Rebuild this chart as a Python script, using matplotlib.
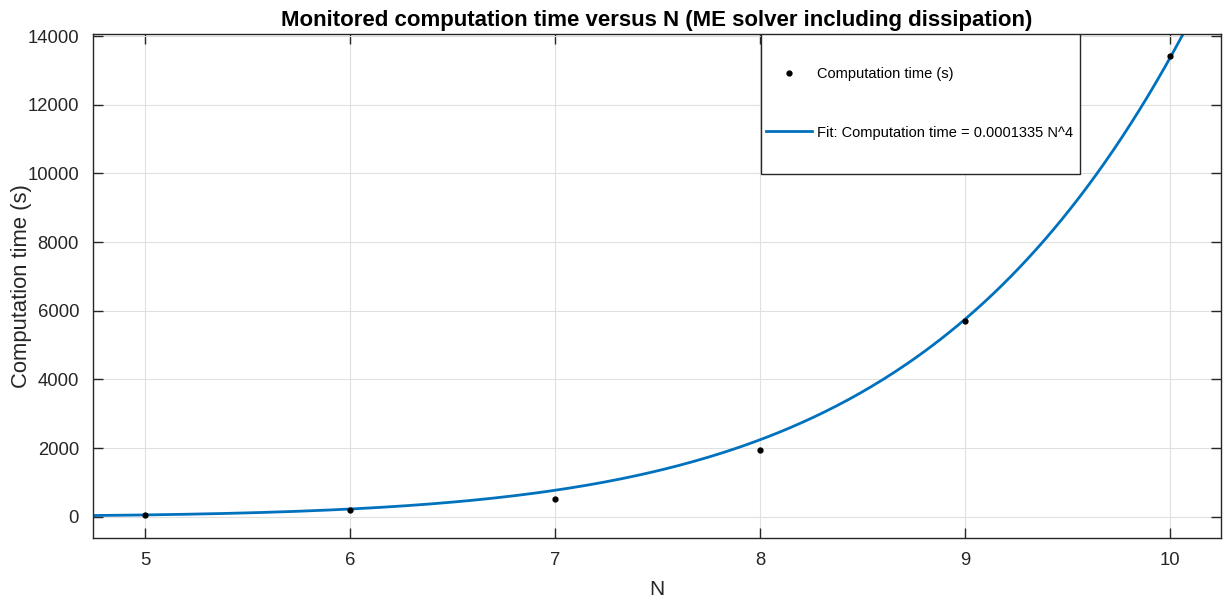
import numpy as np
import matplotlib.pyplot as plt
from matplotlib.patches import Rectangle

plt.rcParams['font.family'] = ['Liberation Sans', 'DejaVu Sans']

# measured runs
N_VALUES = [5, 6, 7, 8, 9, 10]
TIMES_S = [45, 185, 515, 1930, 5715, 13420]

# power-law fit
FIT_COEF = 0.0001335
FIT_EXP = 8
FIT_LABEL = "Fit: Computation time = 0.0001335 N^4"

X_TICKS = [5, 6, 7, 8, 9, 10]
Y_TICKS = [0, 2000, 4000, 6000, 8000, 10000, 12000, 14000]

TXT = "#262626"
BLUE = "#0072BD"

fig = plt.figure(figsize=(12.23, 6.04), dpi=100)
ax = fig.add_axes([93/1223, 1 - 538/604, (1221 - 93)/1223, (538 - 34)/604])

xf = np.linspace(4.7, 10.3, 400)
ax.plot(N_VALUES, TIMES_S, ".", color="black", markersize=7,
        label="Computation time (s)", zorder=3)
ax.plot(xf, FIT_COEF * xf**FIT_EXP, color=BLUE, lw=2, label=FIT_LABEL, zorder=2)

ax.set_xlim(4.746, 10.25)
ax.set_ylim(-620, 14060)
ax.set_xticks(X_TICKS)
ax.set_yticks(Y_TICKS)
ax.grid(True, color="#e0e0e0", lw=0.8)
ax.set_axisbelow(True)
ax.tick_params(direction="in", length=7, width=1, colors=TXT, labelsize=13.3,
               top=True, right=True, pad=10)
for s in ax.spines.values():
    s.set_color(TXT)
    s.set_linewidth(1)

ax.set_xlabel("N", fontsize=15, color=TXT, labelpad=8)
ax.set_ylabel("Computation time (s)", fontsize=15.8, color=TXT)
ax.yaxis.set_label_coords(-0.054, 0.5)
ax.set_title("Monitored computation time versus N (ME solver including dissipation)",
             fontsize=16, fontweight="bold", color="black", pad=6)

# MATLAB-style tall legend box: white panel drawn separately, entries on top
lx0, lx1 = (761 - 93)/1128, (1080 - 93)/1128
ly0 = (538 - 174)/504
ax.add_patch(Rectangle((lx0, ly0), lx1 - lx0, 1 - ly0, transform=ax.transAxes,
                       facecolor="white", edgecolor=TXT, lw=1, zorder=5))
leg = ax.legend(loc="upper left", bbox_to_anchor=(lx0, (538 - 62)/504),
                fontsize=10.5, frameon=False, borderpad=0.35,
                labelspacing=3.05, handlelength=3.15,
                handletextpad=0.35, borderaxespad=0)
leg.set_zorder(6)

fig.savefig("out.png", dpi=100, facecolor="white")
